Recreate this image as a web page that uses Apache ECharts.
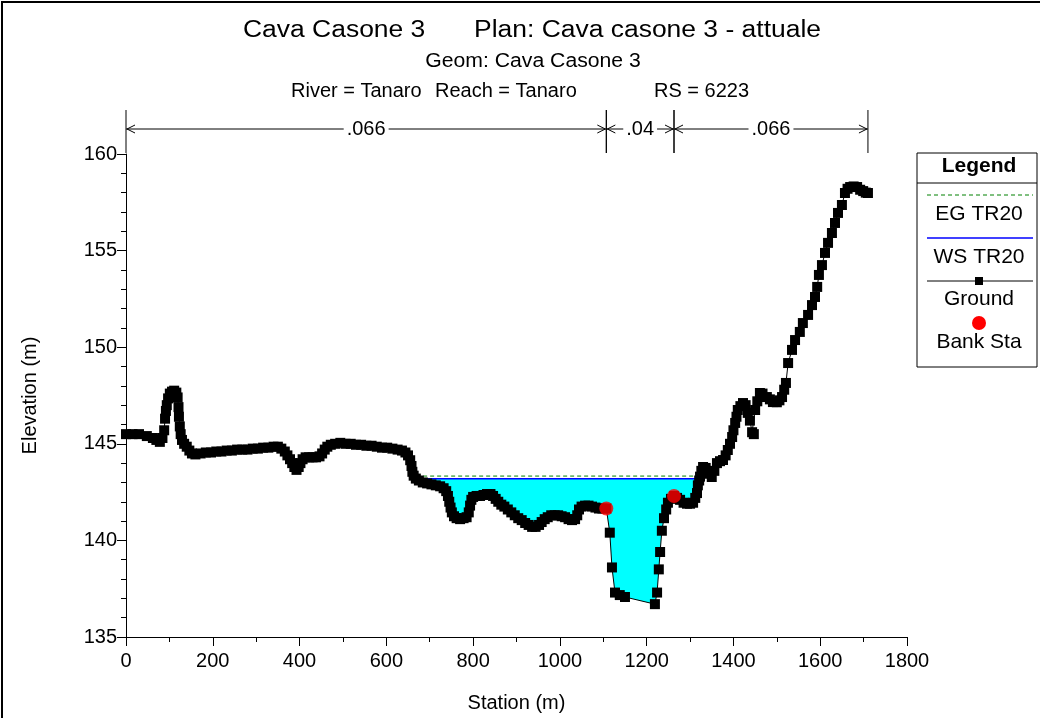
<!DOCTYPE html>
<html>
<head>
<meta charset="utf-8">
<script src="https://cdn.jsdelivr.net/npm/echarts@6/dist/echarts.min.js"></script>
<style>
  html, body { margin: 0; padding: 0; background: #fff; }
  #chart { width: 1040px; height: 718px; }
</style>
</head>
<body>
<div id="chart"></div>
<script>
// Cross section ground profile: [station (m), elevation (m)]
const ground = [
  [0,145.5],[15,145.5],[30,145.5],[48,145.4],[62,145.3],[70,145.2],[78,145.1],[84,145.3],
  [88,145.7],[90,146.3],[92,146.7],[94,147.0],[97,147.35],[101,147.6],[106,147.7],[111,147.75],
  [116,147.65],[119,147.4],[121,146.9],[122,146.4],[124,145.9],[126,145.5],[129,145.2],[134,145.0],
  [140,144.85],[146,144.65],[152,144.5],[160,144.45],[172,144.5],[184,144.55],[196,144.55],[208,144.6],
  [220,144.6],[232,144.65],[244,144.65],[256,144.7],[268,144.7],[280,144.7],[292,144.75],[304,144.75],
  [316,144.8],[328,144.8],[340,144.85],[350,144.85],[358,144.75],[366,144.6],[372,144.4],[378,144.2],
  [383,144.0],[388,143.8],[393,143.65],[398,143.8],[402,144.0],[407,144.2],[414,144.3],[422,144.3],
  [430,144.3],[438,144.3],[446,144.35],[452,144.5],[458,144.7],[464,144.85],[472,144.95],[482,145.0],
  [494,145.05],[506,145.0],[518,145.0],[530,144.95],[542,144.95],[554,144.9],[566,144.9],[578,144.85],
  [590,144.8],[602,144.8],[614,144.75],[626,144.7],[636,144.65],[644,144.55],[650,144.4],[655,144.15],
  [658,143.85],[660,143.55],[663,143.35],[668,143.2],[675,143.1],[684,143.0],[694,142.95],[704,142.9],
  [714,142.85],[724,142.8],[732,142.7],[738,142.55],[742,142.3],[745,142.0],[748,141.7],[751,141.45],
  [756,141.25],[762,141.15],[770,141.1],[778,141.15],[785,141.2],[790,141.45],[793,141.8],[796,142.1],
  [800,142.25],[808,142.3],[816,142.3],[824,142.35],[832,142.4],[840,142.4],[846,142.3],[852,142.15],
  [858,142.0],[865,141.85],[872,141.75],[880,141.6],[888,141.45],[896,141.3],[904,141.15],[912,141.05],
  [920,140.9],[928,140.8],[936,140.7],[944,140.7],[952,140.8],[958,140.95],[965,141.1],[972,141.2],
  [980,141.3],[988,141.3],[996,141.3],[1004,141.25],[1012,141.2],[1020,141.1],[1028,141.05],[1035,141.1],
  [1040,141.3],[1044,141.6],[1050,141.75],[1058,141.8],[1066,141.8],[1074,141.75],[1082,141.7],[1090,141.65],
  [1098,141.65],[1107,141.65],[1115,140.4],[1120,138.6],[1127,137.3],[1138,137.17],[1150,137.07],[1219,136.7],
  [1224,137.3],[1228,138.5],[1231,139.4],[1235,140.5],[1240,141.15],[1245,141.6],[1249,141.95],[1256,142.15],
  [1263,142.3],[1270,142.2],[1277,142.1],[1285,141.95],[1293,141.9],[1300,141.9],[1307,141.95],[1312,142.2],
  [1316,142.45],[1318,142.85],[1321,143.1],[1323,143.3],[1326,143.6],[1330,143.8],[1336,143.75],[1343,143.45],
  [1350,143.28],[1356,143.6],[1362,144.0],[1369,144.1],[1376,144.16],[1382,144.4],[1387,144.68],[1392,145.0],
  [1397,145.35],[1400,145.7],[1404,146.08],[1407,146.4],[1410,146.75],[1416,146.95],[1422,147.11],[1428,147.0],
  [1433,146.6],[1438,146.2],[1443,145.6],[1447,145.5],[1450,146.75],[1455,147.2],[1461,147.63],[1467,147.6],
  [1477,147.42],[1484,147.3],[1491,147.16],[1500,147.15],[1506,147.25],[1512,147.42],[1517,147.8],[1521,148.15],
  [1526,149.18],[1535,149.86],[1542,150.37],[1553,150.79],[1560,151.25],[1572,151.67],[1581,152.18],[1588,152.6],
  [1593,153.12],[1597,153.74],[1604,154.25],[1611,154.88],[1618,155.4],[1627,155.91],[1634,156.43],[1641,156.95],
  [1650,157.36],[1657,157.98],[1663,158.2],[1669,158.29],[1677,158.32],[1685,158.29],[1692,158.15],[1699,158.08],
  [1705,158.0],[1710,157.98]
];

// Bank stations
const bankSta = [[1107, 141.65], [1263, 142.3]];

// Profile TR20 levels
const wsElev = 143.19;
const egElev = 143.33;

// Manning's n breaks and values
const nBreaks = [0, 1107, 1263, 1710];
const nValues = ['.066', '.04', '.066'];

// Axis scales
const xMin = 0, xMax = 1800, xStep = 200;
const yMin = 135, yMax = 160, yStep = 5;

const FONT = '"Liberation Sans", Arial, sans-serif';

// Where the water surface meets the ground on both sides of the thalweg
function crossAt(p, q, level) {
  const t = (level - p[1]) / (q[1] - p[1]);
  return [p[0] + t * (q[0] - p[0]), level];
}
function wetted(level) {
  let iMin = 0;
  ground.forEach((p, i) => { if (p[1] < ground[iMin][1]) iMin = i; });
  let i = iMin; while (i > 0 && ground[i - 1][1] < level) i--;
  let j = iMin; while (j < ground.length - 1 && ground[j + 1][1] < level) j++;
  const left = crossAt(ground[i - 1], ground[i], level);
  const right = crossAt(ground[j], ground[j + 1], level);
  return { left, right, poly: [left].concat(ground.slice(i, j + 1), [right]) };
}
const wet = wetted(wsElev);
const wsLine = [wet.left, wet.right];
const egLine = [[wet.left[0], egElev], [wet.right[0], egElev]];
const nSegments = nBreaks.slice(0, -1).map((s, i) => [s, nBreaks[i + 1]]);

const chart = echarts.init(document.getElementById('chart'), null, { renderer: 'canvas' });

const legendX = 917, legendY = 153, legendW = 120, legendH = 214, legendCx = 979;
const lineL = 927, lineR = 1033;

function txt(text, x, y, size, align, scaleX, weight) {
  return {
    type: 'text', x: x, y: y, scaleX: scaleX || 1,
    style: { text: text, font: (weight ? weight + ' ' : '') + size + 'px ' + FONT,
             fill: '#000', align: align, verticalAlign: 'middle' }
  };
}

chart.setOption({
  backgroundColor: '#ffffff',
  animation: false,
  grid: { left: 126, right: 133, top: 154, bottom: 81, containLabel: false },
  xAxis: {
    type: 'value', min: xMin, max: xMax, interval: xStep,
    name: 'Station (m)', nameLocation: 'middle', nameGap: 56,
    nameTextStyle: { color: '#000', fontSize: 20, fontFamily: FONT },
    axisLine: { show: true, onZero: false, lineStyle: { color: '#000', width: 1 } },
    axisTick: { show: true, inside: false, length: 9, lineStyle: { color: '#000' } },
    minorTick: { show: true, splitNumber: 2, length: 5, lineStyle: { color: '#000' } },
    axisLabel: { color: '#000', fontSize: 20, fontFamily: FONT, margin: 14,
                 formatter: v => String(v) },
    splitLine: { show: false }, minorSplitLine: { show: false }
  },
  yAxis: {
    type: 'value', min: yMin, max: yMax, interval: yStep,
    name: 'Elevation (m)', nameLocation: 'middle', nameGap: 86, nameRotate: 90,
    nameTextStyle: { color: '#000', fontSize: 20, fontFamily: FONT },
    axisLine: { show: true, onZero: false, lineStyle: { color: '#000', width: 1 } },
    axisTick: { show: true, inside: false, length: 9, lineStyle: { color: '#000' } },
    minorTick: { show: true, splitNumber: 5, length: 5, lineStyle: { color: '#000' } },
    axisLabel: { color: '#000', fontSize: 20, fontFamily: FONT, margin: 9,
                 formatter: v => String(v) },
    splitLine: { show: false }, minorSplitLine: { show: false }
  },
  series: [
    {
      // wetted area below the water surface
      type: 'custom', name: 'water', clip: false, z: 1, silent: true,
      data: [wet.poly[0]],
      renderItem: function (params, api) {
        return {
          type: 'polygon',
          shape: { points: wet.poly.map(p => api.coord(p)) },
          style: { fill: '#00FFFF', stroke: null }
        };
      }
    },
    {
      name: 'EG TR20', type: 'line', data: egLine, z: 2, symbol: 'none', silent: true,
      lineStyle: { color: '#008000', width: 1, type: [4, 3] }
    },
    {
      name: 'WS TR20', type: 'line', data: wsLine, z: 2, symbol: 'none', silent: true,
      lineStyle: { color: '#0000FF', width: 1.5 }
    },
    {
      name: 'Ground', type: 'line', data: ground, z: 3, silent: true,
      showSymbol: true, showAllSymbol: true, symbol: 'rect', symbolSize: 10,
      itemStyle: { color: '#000' }, lineStyle: { color: '#000', width: 1 }
    },
    {
      name: 'Bank Sta', type: 'scatter', data: bankSta, z: 4, silent: true,
      symbol: 'circle', symbolSize: 14, itemStyle: { color: '#FF0000' }
    },
    {
      // Manning's n zones drawn above the plot area
      type: 'custom', name: 'manning', clip: false, z: 5, silent: true,
      data: nSegments,
      renderItem: function (params, api) {
        const cs = params.coordSys;
        const xa = api.coord([api.value(0), yMax])[0];
        const xb = api.coord([api.value(1), yMax])[0];
        const yl = cs.y - 25, yt = cs.y - 44, yb = cs.y - 1;
        const ls = { stroke: '#000', lineWidth: 1, fill: null };
        return {
          type: 'group',
          children: [
            { type: 'line', shape: { x1: xa, y1: yt, x2: xa, y2: yb }, style: ls },
            { type: 'line', shape: { x1: xb, y1: yt, x2: xb, y2: yb }, style: ls },
            { type: 'line', shape: { x1: xa, y1: yl, x2: xb, y2: yl }, style: ls },
            { type: 'polyline', shape: { points: [[xa + 9, yl - 4], [xa + 1, yl], [xa + 9, yl + 4]] }, style: ls },
            { type: 'polyline', shape: { points: [[xb - 9, yl - 4], [xb - 1, yl], [xb - 9, yl + 4]] }, style: ls },
            {
              type: 'text', z2: 10,
              style: {
                text: nValues[params.dataIndex], x: (xa + xb) / 2, y: yl,
                align: 'center', verticalAlign: 'middle', fill: '#000',
                font: '20px ' + FONT, backgroundColor: '#fff', padding: [0, 3]
              }
            }
          ]
        };
      }
    }
  ],
  graphic: [
    // outer frame (left and top edges)
    { type: 'polyline', shape: { points: [[2, 718], [2, 2], [1040, 2]] },
      style: { stroke: '#000', lineWidth: 2, fill: null }, z: 10 },
    // title block
    txt('Cava Casone 3', 243, 31, 23, 'left', 1.15),
    txt('Plan: Cava casone 3 - attuale', 821, 31, 23, 'right', 1.15),
    txt('Geom: Cava Casone 3', 533, 61, 20, 'center', 1.06),
    txt('River = Tanaro', 291, 91, 20, 'left', 1.0),
    txt('Reach = Tanaro', 435, 91, 20, 'left', 1.0),
    txt('RS = 6223', 749, 91, 20, 'right', 1.0),
    // legend box
    { type: 'group', z: 20, children: [
      { type: 'rect', shape: { x: legendX, y: legendY, width: legendW, height: legendH },
        style: { fill: '#fff', stroke: '#000', lineWidth: 1 } },
      { type: 'line', shape: { x1: legendX, y1: legendY + 30, x2: legendX + legendW, y2: legendY + 30 },
        style: { stroke: '#000', lineWidth: 1 } },
      txt('Legend', legendCx, legendY + 13, 21, 'center', 1, 'bold'),
      { type: 'line', shape: { x1: lineL, y1: 195, x2: lineR, y2: 195 },
        style: { stroke: '#008000', lineWidth: 1, lineDash: [4, 3] } },
      txt('EG TR20', legendCx, 214, 21, 'center'),
      { type: 'line', shape: { x1: lineL, y1: 238, x2: lineR, y2: 238 },
        style: { stroke: '#0000FF', lineWidth: 1.5 } },
      txt('WS TR20', legendCx, 257, 21, 'center'),
      { type: 'line', shape: { x1: lineL, y1: 281, x2: lineR, y2: 281 },
        style: { stroke: '#000', lineWidth: 1 } },
      { type: 'rect', shape: { x: legendCx - 4, y: 277, width: 8, height: 8 }, style: { fill: '#000' } },
      txt('Ground', legendCx, 299, 21, 'center'),
      { type: 'circle', shape: { cx: legendCx, cy: 323, r: 7 }, style: { fill: '#FF0000' } },
      txt('Bank Sta', legendCx, 342, 21, 'center')
    ] }
  ]
});
</script>
</body>
</html>
